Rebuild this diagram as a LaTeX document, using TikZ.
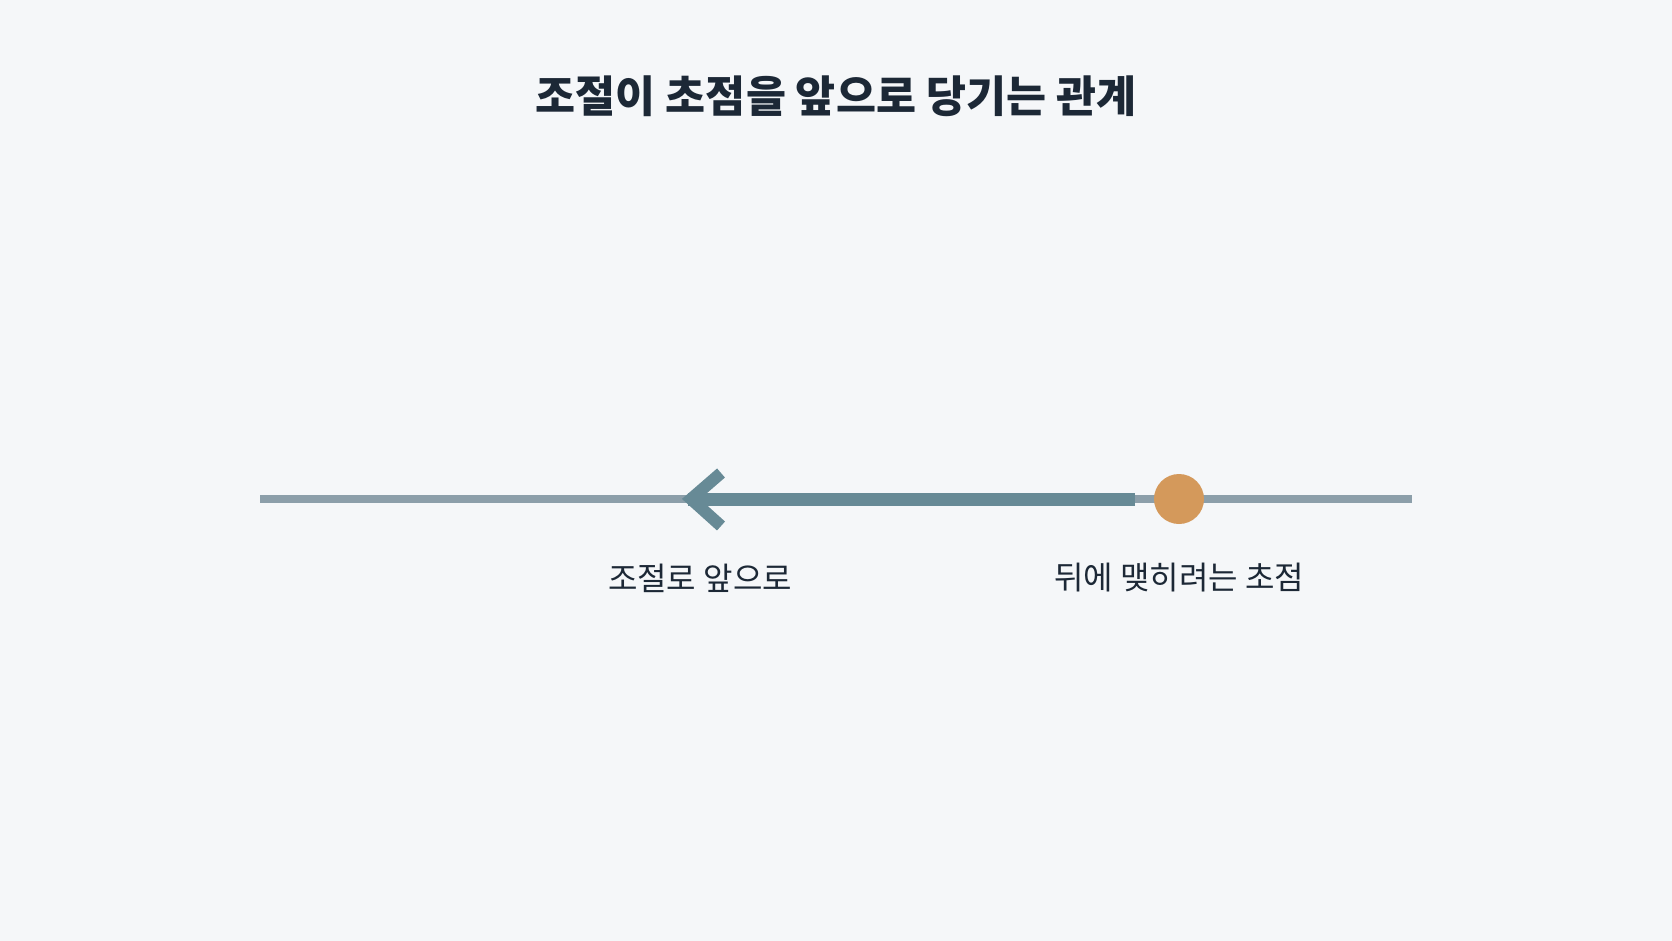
\documentclass[tikz,border=0pt]{standalone}
\usepackage{fontspec}
\newfontfamily\kr{Noto Sans CJK KR}
\usetikzlibrary{arrows.meta}
\definecolor{bg}{HTML}{F5F7F9}
\definecolor{axisgray}{HTML}{8C9FAA}
\definecolor{arrowteal}{HTML}{678A96}
\definecolor{focusorange}{HTML}{D4995B}
\definecolor{textdark}{HTML}{1C2836}
\tikzset{
  axisline/.style={draw=axisgray, line width=7.5pt},
  shiftarrow/.style={draw=arrowteal, line width=13pt},
  chevron/.style={draw=arrowteal, line width=12pt, miter limit=10},
  focusdot/.style={circle, fill=focusorange, inner sep=0pt, minimum size=50pt},
  lbl/.style={text=textdark, font=\kr\fontsize{32pt}{36pt}\selectfont, inner sep=0pt},
  ttl/.style={text=textdark, font=\kr\bfseries\fontsize{43.5pt}{48pt}\selectfont, inner sep=0pt}
}
\begin{document}
\begin{tikzpicture}[x=1pt,y=-1pt]
\fill[bg] (0,0) rectangle (1672,941);
\useasboundingbox (0,0) rectangle (1672,941);
\node[ttl] (title) at (836,96) {조절이 초점을 앞으로 당기는 관계};
\coordinate (axL) at (260,499);
\coordinate (axR) at (1412,499);
\draw[axisline] (axL) -- (axR);
\coordinate (from) at (1135,499);
\coordinate (to) at (688,499);
\draw[shiftarrow] (from) -- (to);
\coordinate (armT) at (721,473);
\coordinate (armB) at (721,526);
\coordinate (tip) at (691,499);
\draw[chevron] (armT) -- (tip) -- (armB);
\node[focusdot] (focus) at (1179,499) {};
\node[lbl] (lblA) at (700,578) {조절로 앞으로};
\node[lbl] (lblB) at (1179,578) {뒤에 맺히려는 초점};
\end{tikzpicture}
\end{document}
